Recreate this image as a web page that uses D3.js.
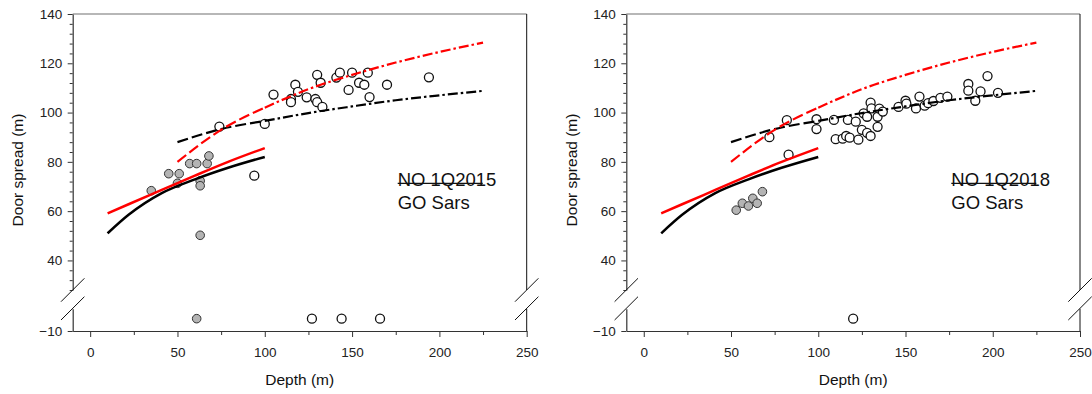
<!DOCTYPE html>
<html>
<head>
<meta charset="utf-8">
<script src="https://cdn.jsdelivr.net/npm/d3@7"></script>
<style>
  body { margin: 0; background: #fff; }
  svg { display: block; font-family: "Liberation Sans", Arial, sans-serif; }
</style>
</head>
<body>
<svg id="chart" width="1092" height="394"></svg>
<script>
// axis ticks
const xTicks = [0, 50, 100, 150, 200, 250];
const xMinorTicks = [25, 75, 125, 175, 225];
const yTicks = [40, 60, 80, 100, 120, 140];
const yMinorTicks = [28, 32, 36, 44, 48, 52, 56, 64, 68, 72, 76, 84, 88, 92, 96, 104, 108, 112, 116, 124, 128, 132, 136];
const yLowTicks = [-10];

// fitted curves (same in both panels)
const fitShortDepth = [10, 22, 41, 60, 79, 100];
const fitShortBlack = [51, 58.5, 67.3, 72.9, 77.6, 82];
const fitShortRed = [59.1, 62.8, 68.6, 74.4, 80, 85.6];
const fitLongDepth = [50, 75, 100, 125, 150, 175, 200, 225];
const fitLongBlack = [88, 93.3, 96.6, 99.8, 102.5, 105, 107, 108.8];
const fitLongRed = [80, 93, 102, 109.5, 115.3, 120.3, 124.6, 128.4];

// NO 1Q2015
const gray2015Depth = [35, 45, 51, 50, 57, 61, 67, 68, 63, 63, 63, 61];
const gray2015Spread = [68.3, 75.2, 75.2, 71.3, 79.3, 79.3, 79.3, 82.4, 72.3, 70.3, 50.2, -5];
const open2015Depth = [94, 74, 100, 105, 115, 115, 117.5, 119, 124, 129, 130, 133, 130, 132, 141, 143, 150, 148, 154, 157, 159, 160, 170, 194, 127, 144, 166];
const open2015Spread = [74.4, 94.3, 95.4, 107.3, 105.5, 104.2, 111.3, 108.4, 106.2, 105.5, 104.2, 102.3, 115.3, 112.1, 114.2, 116.2, 116.2, 109.2, 112.1, 111.3, 116.2, 106.3, 111.3, 114.3, -5, -5, -5];

// NO 1Q2018
const gray2018Depth = [53, 56.5, 60, 62.5, 65, 68];
const gray2018Spread = [60.4, 63.2, 62.1, 65.2, 63.2, 67.9];
const open2018Depth = [82, 72, 83, 99, 99, 109, 117, 110, 114, 116, 118, 123, 121.5, 125, 128, 130, 134, 126, 128, 130, 130.5, 134, 135, 137, 146, 150, 150.5, 156, 158, 161, 163, 166, 170, 174, 186, 186, 190, 193, 197, 203, 120];
const open2018Spread = [96.9, 90, 82.9, 97.3, 93.3, 97, 97, 89.2, 89.4, 90.5, 89.8, 89, 96.3, 93, 91.8, 90.5, 94.2, 99.7, 98.3, 104, 101.7, 98.3, 101.6, 100.4, 102.3, 104.8, 103.6, 101.7, 106.5, 102.8, 103.8, 104.7, 106, 106.5, 111.6, 108.9, 104.8, 108.6, 114.8, 108, -5];

const svg = d3.select('#chart');
const plotTop = 14, plotBottom = 331, breakHi = 290, breakLo = 308.8;

function drawPanel(left, right, grayD, grayS, openD, openS, title1, title2) {
  const g = svg.append('g');
  const x = d3.scaleLinear().domain([-10, 250]).range([left, right]);
  const yTop = d3.scaleLinear().domain([28, 140]).range([breakHi, plotTop]);
  const yBot = d3.scaleLinear().domain([-10, -1]).range([plotBottom, breakLo]);
  const y = v => v >= 28 ? yTop(v) : yBot(v);

  // frame: top and right side
  g.append('line').attr('x1', left).attr('x2', right).attr('y1', plotTop).attr('y2', plotTop).attr('stroke', '#707070').attr('stroke-width', 1.2);
  g.append('line').attr('x1', right).attr('x2', right).attr('y1', plotTop).attr('y2', breakHi).attr('stroke', '#111');
  g.append('line').attr('x1', right).attr('x2', right).attr('y1', breakLo).attr('y2', plotBottom).attr('stroke', '#111');

  // axes
  g.append('g').attr('class', 'x-axis').attr('transform', 'translate(0,' + plotBottom + ')')
    .call(d3.axisBottom(x).tickValues(xTicks).tickSize(6).tickSizeOuter(0).tickPadding(10));
  g.append('g').attr('transform', 'translate(0,' + plotBottom + ')')
    .call(d3.axisBottom(x).tickValues(xMinorTicks).tickSize(4).tickFormat('')).select('.domain').remove();
  g.append('g').attr('class', 'y-axis').attr('transform', 'translate(' + left + ',0)')
    .call(d3.axisLeft(yTop).tickValues(yTicks).tickSize(5).tickSizeOuter(0).tickPadding(5.5));
  g.append('g').attr('transform', 'translate(' + left + ',0)')
    .call(d3.axisLeft(yTop).tickValues(yMinorTicks).tickSize(3).tickFormat('')).select('.domain').remove();
  g.append('g').attr('class', 'y-axis').attr('transform', 'translate(' + left + ',0)')
    .call(d3.axisLeft(yBot).tickValues(yLowTicks).tickSize(5).tickSizeOuter(0).tickPadding(5.5));
  g.selectAll('.domain').attr('stroke', '#333').attr('stroke-width', 1.2);
  g.selectAll('.tick line').attr('stroke', '#333');
  g.selectAll('.tick text').attr('font-size', 13.5).attr('fill', '#222').attr('font-family', '"Liberation Sans", Arial, sans-serif');

  // axis break slashes
  [left, right].forEach(function(ax) {
    g.append('line').attr('x1', ax - 11.7).attr('y1', 301.7).attr('x2', ax + 11.7).attr('y2', 278.3).attr('stroke', '#111');
    g.append('line').attr('x1', ax - 11.7).attr('y1', 320).attr('x2', ax + 11.7).attr('y2', 296.7).attr('stroke', '#111');
  });

  // axis titles
  g.append('text').attr('transform', 'translate(' + (left - 55) + ',' + 170 + ') rotate(-90)')
    .attr('text-anchor', 'middle').attr('dy', '0.35em').attr('font-size', 15.5).attr('fill', '#111').text('Door spread (m)');
  g.append('text').attr('x', (left + right) / 2).attr('y', 385)
    .attr('text-anchor', 'middle').attr('font-size', 15.5).attr('fill', '#111').text('Depth (m)');

  // points
  const grayPts = grayD.map((d, i) => ({x: d, y: grayS[i]}));
  const openPts = openD.map((d, i) => ({x: d, y: openS[i]}));
  g.selectAll('.gray').data(grayPts).enter().append('circle').attr('class', 'gray')
    .attr('cx', d => x(d.x)).attr('cy', d => y(d.y)).attr('r', 4.3)
    .attr('fill', '#b4b4b4').attr('stroke', '#333').attr('stroke-width', 1);
  g.selectAll('.open').data(openPts).enter().append('circle').attr('class', 'open')
    .attr('cx', d => x(d.x)).attr('cy', d => y(d.y)).attr('r', 4.5)
    .attr('fill', 'white').attr('stroke', '#111').attr('stroke-width', 1.3);

  // fitted lines
  const line = d3.line().curve(d3.curveMonotoneX).x(d => x(d.x)).y(d => y(d.y));
  const shortBlack = fitShortDepth.map((d, i) => ({x: d, y: fitShortBlack[i]}));
  const shortRed = fitShortDepth.map((d, i) => ({x: d, y: fitShortRed[i]}));
  const longBlack = fitLongDepth.map((d, i) => ({x: d, y: fitLongBlack[i]}));
  const longRed = fitLongDepth.map((d, i) => ({x: d, y: fitLongRed[i]}));
  g.append('path').attr('d', line(shortBlack)).attr('fill', 'none').attr('stroke', '#000').attr('stroke-width', 2.5);
  g.append('path').attr('d', line(shortRed)).attr('fill', 'none').attr('stroke', '#f00').attr('stroke-width', 2.5);
  [[longBlack, '#000'], [longRed, '#f00']].forEach(function(p) {
    g.append('path').attr('d', line(p[0].filter(d => d.x <= 100))).attr('fill', 'none')
      .attr('stroke', p[1]).attr('stroke-width', 2.2).attr('stroke-dasharray', '11,4');
    g.append('path').attr('d', line(p[0].filter(d => d.x >= 100))).attr('fill', 'none')
      .attr('stroke', p[1]).attr('stroke-width', 2.2).attr('stroke-dasharray', '10,3,2.5,3');
  });

  // survey label
  const tx = left + 325;
  g.append('line').attr('x1', tx).attr('x2', tx + 85).attr('y1', 183.3).attr('y2', 183.3).attr('stroke', '#111').attr('stroke-width', 1.3);
  g.append('text').attr('x', tx).attr('y', 185.5).attr('font-size', 18.5).attr('fill', '#111').text(title1);
  g.append('text').attr('x', tx).attr('y', 208.5).attr('font-size', 18.5).attr('fill', '#111').text(title2);
}

drawPanel(72.7, 526.7, gray2015Depth, gray2015Spread, open2015Depth, open2015Spread, 'NO 1Q2015', 'GO Sars');
drawPanel(626.3, 1080, gray2018Depth, gray2018Spread, open2018Depth, open2018Spread, 'NO 1Q2018', 'GO Sars');
</script>
</body>
</html>
